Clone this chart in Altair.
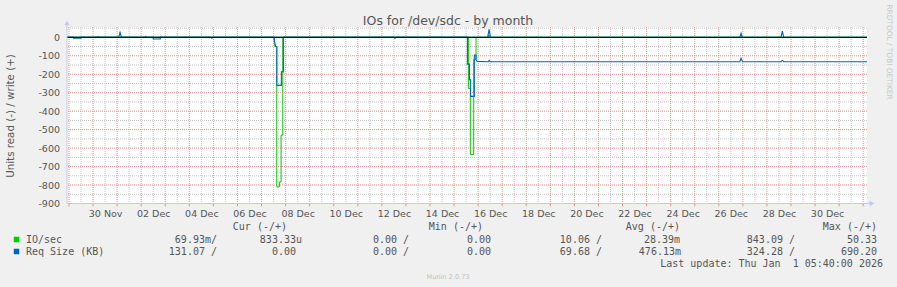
import altair as alt
import pandas as pd

# ---------------- data (hours since 30 Nov 00:00, plotted values) ----------------
io_read_h = [-26, 180.5, 180.5, 181.5, 183.2, 183.2, 185.8, 185.8, 187.5, 187.5, 189.2, 189.2,
             374.3, 374.3, 376.2, 376.2, 379.6, 379.6, 381.9, 381.9, 771.8]
io_read_v = [0, 0, -33, -50, -50, -810, -810, -783, -783, -530, -530, 0,
             0, -277, -277, -634, -634, -120, -120, 0, 0]

io_write_h = [-26, 394, 394.9, 396, 771.8]
io_write_v = [0, 0, 12, 0, 0]

req_read_h = [-26, -19.6, -19.6, -12, -12, 60, 60, 67, 67, 117.5, 118.4, 119.5,
              180.5, 181, 182.3, 183.2, 183.2, 187.8, 187.8, 189.8, 189.8,
              300, 301, 302,
              373.3, 373.3, 375.3, 375.3, 376.5, 376.5, 380.2, 380.2, 381.9, 381.9, 383,
              394, 394.9, 396, 645, 646.2, 647.5, 686, 687.4, 689, 771.8]
req_read_v = [0, 0, -5, -5, 0, 0, -9, -9, 0, 0, -5, 0,
              0, -24, -51, -51, -260, -260, -186, -186, 0,
              0, -5, 0,
              0, -145, -145, -230, -230, -320, -320, -96, -96, -120, -130,
              -132, -125, -132, -132, -114, -132, -132, -125, -132, -132]

req_write_h = [-26, 3.5, 4.7, 6, 25.5, 26.9, 28.3, 51.5, 52.5, 53.5,
               393.5, 394.9, 396.3, 645, 646.2, 647.4, 686, 687.4, 688.8, 771.8]
req_write_v = [0, 0, 3, 0, 0, 27, 0, 0, 5, 0,
               0, 43, 0, 0, 22, 0, 0, 34, 0, 0]

x_label_hours = [12, 60, 108, 156, 204, 252, 300, 348, 396, 444, 492, 540, 588, 636, 684, 732]
x_labels = ["30 Nov", "02 Dec", "04 Dec", "06 Dec", "08 Dec", "10 Dec", "12 Dec", "14 Dec",
            "16 Dec", "18 Dec", "20 Dec", "22 Dec", "24 Dec", "26 Dec", "28 Dec", "30 Dec"]
y_ticks = [-900, -800, -700, -600, -500, -400, -300, -200, -100, 0]

series_names = ["IO/sec", "Req Size (KB)"]
series_colors = ["#00CC00", "#0066B3"]
legend_headers = ["Cur (-/+)", "Min (-/+)", "Avg (-/+)", "Max (-/+)"]
io_stats = ["69.93m/", "833.33u", "0.00 /", "0.00", "10.06 /", "28.39m", "843.09 /", "50.33"]
req_stats = ["131.07 /", "0.00", "0.00 /", "0.00", "69.68 /", "476.13m", "324.28 /", "690.20"]
last_update = "Last update: Thu Jan  1 05:40:00 2026"
title_text = "IOs for /dev/sdc - by month"
y_title = "Units read (-) / write (+)"
side_text = "RRDTOOL / TOBI OETIKER"
footer_text = "Munin 2.0.73"

# ---------------- layout ----------------
PL, PT, W, H = 67, 27, 800, 176.5
PR, PB = 897 - PL - W, 287 - PT - H
X_DOMAIN = [-26, 771.8]
Y_DOMAIN = [-900, 56]
xs = alt.Scale(domain=X_DOMAIN, nice=False, zero=False)
ys = alt.Scale(domain=Y_DOMAIN, nice=False, zero=False)
AXIS_COL = "#c4c8f0"
RED_GRID = "#e69494"
GRAY_GRID = "#c4c4c4"
FONT = "DejaVu Sans"
MONO = "DejaVu Sans Mono"


def rx(v):
    return v - PL


def ry(v):
    return v - PT


def mk(name, hs, vs, part):
    return pd.DataFrame({"series": name, "part": part, "h": hs, "v": vs, "i": range(len(hs))})


green_df = pd.concat([mk(series_names[0], io_read_h, io_read_v, "read"),
                      mk(series_names[0], io_write_h, io_write_v, "write")])
blue_df = pd.concat([mk(series_names[1], req_read_h, req_read_v, "read"),
                     mk(series_names[1], req_write_h, req_write_v, "write")])

# grid
day_lines = list(range(-24, 772, 24))
half_lines = list(range(-12, 772, 24))
red_h = list(range(-900, 1, 100))
gray_h = list(range(-850, 57, 100))

vred = alt.Chart(pd.DataFrame({"h": day_lines})).mark_rule(
    color=RED_GRID, strokeDash=[1, 1], strokeWidth=1).encode(x=alt.X("h:Q", scale=xs, axis=None))
vgray = alt.Chart(pd.DataFrame({"h": half_lines})).mark_rule(
    color=GRAY_GRID, strokeDash=[1, 1], strokeWidth=1).encode(x=alt.X("h:Q", scale=xs, axis=None))
hgray = alt.Chart(pd.DataFrame({"v": gray_h})).mark_rule(
    color=GRAY_GRID, strokeDash=[1, 1], strokeWidth=1).encode(y=alt.Y("v:Q", scale=ys, axis=None))
hred = alt.Chart(pd.DataFrame({"v": red_h})).mark_rule(
    color=RED_GRID, strokeDash=[1, 1], strokeWidth=1).encode(y=alt.Y("v:Q", scale=ys, axis=None))
xticks = alt.Chart(pd.DataFrame({"h": day_lines})).mark_rule(
    color=RED_GRID, strokeWidth=1).encode(x=alt.X("h:Q", scale=xs, axis=None),
                                          y=alt.value(H), y2=alt.value(H + 3))

labels_js = "[" + ",".join("'" + s + "'" for s in x_labels) + "]"
hours_js = "[" + ",".join(str(h) for h in x_label_hours) + "]"

color_scale = alt.Scale(domain=series_names, range=series_colors)

axis_layer = alt.Chart(pd.DataFrame({"h": [0], "v": [0]})).mark_point(opacity=0).encode(
    x=alt.X("h:Q", scale=xs, axis=alt.Axis(
        values=x_label_hours, labelExpr=labels_js + "[indexof(" + hours_js + ", datum.value)]",
        ticks=False, domain=False, grid=False, title=None, labelFont=FONT, labelFontSize=9.5,
        labelColor="#555555", labelPadding=12.5, labelBaseline="alphabetic",
        labelFlush=False, labelOverlap=False)),
    y=alt.Y("v:Q", scale=ys, axis=alt.Axis(
        values=y_ticks, labelExpr="'' + datum.value", ticks=False, domain=False, grid=False,
        title=None, labelFont=FONT, labelFontSize=9.5, labelColor="#555555", labelPadding=7.5,
        labelBaseline="middle")),
)

green_line = alt.Chart(green_df).mark_line(strokeWidth=1, interpolate="linear").encode(
    x=alt.X("h:Q", scale=xs, axis=None), y=alt.Y("v:Q", scale=ys, axis=None),
    color=alt.Color("series:N", scale=color_scale, legend=None),
    detail="part:N", order="i:Q")
blue_line = alt.Chart(blue_df).mark_line(strokeWidth=1.1, interpolate="linear").encode(
    x=alt.X("h:Q", scale=xs, axis=None), y=alt.Y("v:Q", scale=ys, axis=None),
    color=alt.Color("series:N", scale=color_scale, legend=None),
    detail="part:N", order="i:Q")

zero_line = alt.Chart(pd.DataFrame({"v": [0]})).mark_rule(color="black", strokeWidth=1).encode(
    y=alt.Y("v:Q", scale=ys, axis=None))

dummy = pd.DataFrame({"a": [0]})
yaxis_line = alt.Chart(dummy).mark_rule(color=AXIS_COL, strokeWidth=1).encode(
    x=alt.value(0), y=alt.value(-4), y2=alt.value(H))
xaxis_line = alt.Chart(dummy).mark_rule(color=AXIS_COL, strokeWidth=1).encode(
    x=alt.value(0), x2=alt.value(W + 5), y=alt.value(H))
arrow_up = alt.Chart(dummy).mark_point(shape="triangle-up", filled=True, size=30,
                                       color=AXIS_COL, opacity=1).encode(
    x=alt.value(0), y=alt.value(-4))
arrow_right = alt.Chart(dummy).mark_point(shape="triangle-right", filled=True, size=30,
                                          color=AXIS_COL, opacity=1).encode(
    x=alt.value(W + 5), y=alt.value(H))


def text_layer(txt, x, y, size, color="#555555", font=FONT, align="center", baseline="alphabetic",
               angle=0):
    return alt.Chart(pd.DataFrame({"t": [txt]})).mark_text(
        font=font, fontSize=size, color=color, align=align, baseline=baseline, angle=angle
    ).encode(text="t:N", x=alt.value(rx(x)), y=alt.value(ry(y)))


texts = [
    text_layer(title_text, 448, 25, 12.5),
    text_layer(y_title, 11, 116, 10.3, baseline="middle", angle=270),
    text_layer(side_text, 889, 52, 7.4, color="#c8c8c8", baseline="middle", angle=90),
    text_layer(footer_text, 448, 279, 6.6, color="#c0c0c0"),
    text_layer(last_update.replace(" ", "\u00a0"), 883, 266.8, 10, font=MONO, align="right"),
]

header_right = [287, 483, 680, 877]
col_right_io = [217, 302, 409, 491, 602, 680, 795, 877]
col_right_req = [217, 296, 409, 491, 602, 681, 795, 877]
row_y = [230.3, 242.5, 254.6]

for t, xr in zip(legend_headers, header_right):
    texts.append(text_layer(t.replace(" ", "\u00a0"), xr, row_y[0], 10, font=MONO, align="right"))
for t, xr in zip(io_stats, col_right_io):
    texts.append(text_layer(t.replace(" ", "\u00a0"), xr, row_y[1], 10, font=MONO, align="right"))
for t, xr in zip(req_stats, col_right_req):
    texts.append(text_layer(t.replace(" ", "\u00a0"), xr, row_y[2], 10, font=MONO, align="right"))
texts.append(text_layer(series_names[0], 26, row_y[1], 10, font=MONO, align="left"))
texts.append(text_layer(series_names[1].replace(" ", "\u00a0"), 26, row_y[2], 10, font=MONO, align="left"))

squares = alt.Chart(pd.DataFrame({"series": series_names, "yy": [ry(239.5), ry(251.5)]})).mark_square(
    size=30, filled=True, opacity=1).encode(
    x=alt.value(rx(16.5)), y=alt.Y("yy:Q", scale=None, axis=None),
    color=alt.Color("series:N", scale=color_scale, legend=None))

chart = alt.layer(
    vgray, hgray, vred, hred, axis_layer, green_line, blue_line, zero_line,
    yaxis_line, xaxis_line, arrow_up, arrow_right, xticks, squares, *texts
).resolve_axis(x="independent", y="independent").properties(
    width=W, height=H,
    padding={"left": PL, "top": PT, "right": PR, "bottom": PB},
    autosize=alt.AutoSizeParams(type="none"),
    background="#f0f0f0",
).configure_view(fill="white", stroke=None)

chart.save("out.html", embed_options={"renderer": "svg", "actions": False})
